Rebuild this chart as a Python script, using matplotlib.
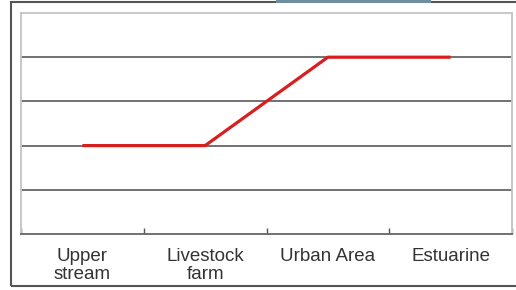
"""
Step line across four sampling sites.
"""
import matplotlib.pyplot as plt
from matplotlib.patches import Rectangle

plt.rcParams['font.family'] = ['Liberation Sans', 'DejaVu Sans']

sites = ["Upper\nstream", "Livestock\nfarm", "Urban Area", "Estuarine"]
levels = [2, 2, 4, 4]
y_max = 5

fig = plt.figure(figsize=(5.16, 2.90), dpi=100)
ax = fig.add_axes([21/516, 56/290, 491/516, 221/290])

# outer frame and the blue strip at top edge
fig.patches.append(Rectangle((11/516, 4/290), 1.0, 284/290, transform=fig.transFigure,
                             fill=False, edgecolor='#555555', linewidth=1.5))
fig.patches.append(Rectangle((276/516, 287.5/290), 155/516, 3/290, transform=fig.transFigure,
                             facecolor='#6f8ea0', edgecolor='none'))

x = list(range(len(sites)))
ax.plot(x, levels, color='#d91e1e', linewidth=2.3, solid_capstyle='butt', zorder=3)

ax.set_xlim(-0.5, len(sites) - 0.5)
ax.set_ylim(0, y_max)

for v in range(1, y_max):
    ax.axhline(v, color='#666666', linewidth=1.3, zorder=1)

ax.set_yticks([])
ax.set_xticks(x)
ax.set_xticklabels(sites, fontsize=13.5, color='#333333', linespacing=1.12)
ax.tick_params(axis='x', which='major', length=0, pad=10)
ax.set_xticks([i - 0.5 for i in range(len(sites) + 1)], minor=True)
ax.tick_params(axis='x', which='minor', direction='in', length=4, width=1, color='#555555')

for side in ['left', 'top', 'right']:
    ax.spines[side].set_color('#c4c4c4')
    ax.spines[side].set_linewidth(1.3)
ax.spines['bottom'].set_color('#666666')
ax.spines['bottom'].set_linewidth(1.3)

fig.savefig('out.png', dpi=100)
